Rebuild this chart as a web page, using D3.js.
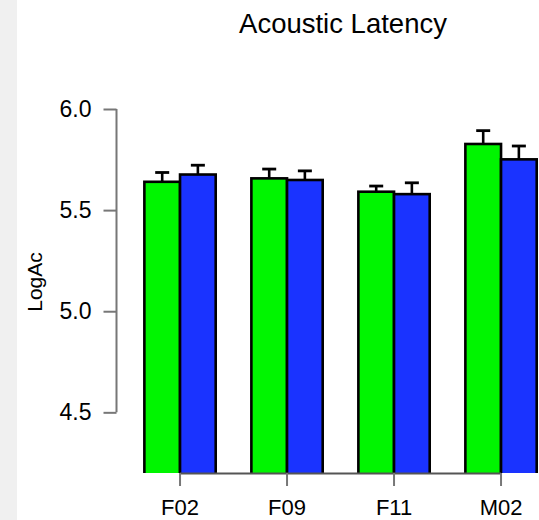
<!DOCTYPE html>
<html><head><meta charset="utf-8">
<script src="https://cdn.jsdelivr.net/npm/d3@7/dist/d3.min.js"></script>
<style>html,body{margin:0;padding:0;background:#fff;}svg{display:block;}</style>
</head><body>
<script>
const categories = ["F02","F09","F11","M02"];
const series = ["green","blue"];
const greenValues = [5.640, 5.657, 5.591, 5.827];
const blueValues  = [5.676, 5.649, 5.579, 5.751];
const greenErr = [0.046, 0.046, 0.028, 0.066];
const blueErr  = [0.046, 0.045, 0.056, 0.066];
const yTicks = [4.5, 5.0, 5.5, 6.0];
const title = "Acoustic Latency";
const yLabel = "LogAc";

const W = 539, H = 520;
const svg = d3.select("body").append("svg").attr("width", W).attr("height", H);
svg.append("rect").attr("x",0).attr("y",0).attr("width",17).attr("height",H).attr("fill","#f0f0f0");

const font = "Liberation Sans, Arial, Helvetica, sans-serif";
const y = d3.scaleLinear().domain([4.2, 6.0]).range([473, 109]);
const x0 = d3.scaleBand().domain(categories).range([108.7, 108.7 + 4*107]).padding(0);
const x1 = d3.scaleBand().domain(["gap"].concat(series)).range([0, x0.bandwidth()]).padding(0);
const colors = {green:"#00f500", blue:"#1a33ff"};

const data = categories.map((c,i)=>({cat:c, vals:[
  {s:"green", v:greenValues[i], e:greenErr[i]},
  {s:"blue", v:blueValues[i], e:blueErr[i]}]}));

svg.append("defs").append("clipPath").attr("id","plotclip")
  .append("rect").attr("x",0).attr("y",0).attr("width",W).attr("height",473);

const plot = svg.append("g").attr("clip-path","url(#plotclip)");
const groups = plot.selectAll("g.grp").data(data).join("g").attr("class","grp")
  .attr("transform", d=>`translate(${x0(d.cat)},0)`);
groups.selectAll("rect").data(d=>d.vals).join("rect")
  .attr("x", d=>x1(d.s)).attr("width", x1.bandwidth())
  .attr("y", d=>y(d.v)).attr("height", d=>y(4.2)-y(d.v)+5)
  .attr("fill", d=>colors[d.s]).attr("stroke","#000").attr("stroke-width",2.6);
// error bars
groups.selectAll("line.err").data(d=>d.vals).join("line").attr("class","err")
  .attr("x1", d=>x1(d.s)+x1.bandwidth()/2).attr("x2", d=>x1(d.s)+x1.bandwidth()/2)
  .attr("y1", d=>y(d.v)).attr("y2", d=>y(d.v+d.e))
  .attr("stroke","#000").attr("stroke-width",2.6);
groups.selectAll("line.cap").data(d=>d.vals).join("line").attr("class","cap")
  .attr("x1", d=>x1(d.s)+x1.bandwidth()/2-7).attr("x2", d=>x1(d.s)+x1.bandwidth()/2+7)
  .attr("y1", d=>y(d.v+d.e)).attr("y2", d=>y(d.v+d.e))
  .attr("stroke","#000").attr("stroke-width",2.8);

// y axis
const yAxis = d3.axisLeft(y).tickValues(yTicks).tickFormat(d3.format(".1f")).tickSize(13).tickPadding(12);
const ya = svg.append("g").attr("transform","translate(116.5,0)").call(yAxis);
ya.select(".domain").remove();
ya.append("line").attr("x1",0).attr("x2",0).attr("y1",y(4.5)).attr("y2",y(6.0)).attr("stroke","#777").attr("stroke-width",2);
ya.selectAll(".tick line").attr("stroke","#777").attr("stroke-width",2);
ya.selectAll(".tick text").attr("fill","#000").style("font-family",font).style("font-size","23px");

// x axis
const tickX = c => x0(c) + x1("blue");
const xa = svg.append("g");
xa.append("line").attr("x1",tickX(categories[0])).attr("x2",tickX(categories[categories.length-1]))
  .attr("y1",473.5).attr("y2",473.5).attr("stroke","#555").attr("stroke-width",2);
xa.selectAll("line.t").data(categories).join("line").attr("class","t")
  .attr("x1",tickX).attr("x2",tickX).attr("y1",473).attr("y2",486)
  .attr("stroke","#777").attr("stroke-width",2);
xa.selectAll("text").data(categories).join("text")
  .attr("x",tickX).attr("y",515).attr("text-anchor","middle")
  .style("font-family",font).style("font-size","22px").attr("fill","#000").text(d=>d);

// title & label
svg.append("text").attr("x",343).attr("y",33).attr("text-anchor","middle")
  .style("font-family",font).style("font-size","27.5px").attr("fill","#000").text(title);
svg.append("text").attr("transform","translate(42,282) rotate(-90)").attr("text-anchor","middle")
  .style("font-family",font).style("font-size","21px").attr("fill","#000").text(yLabel);
</script>
</body></html>
